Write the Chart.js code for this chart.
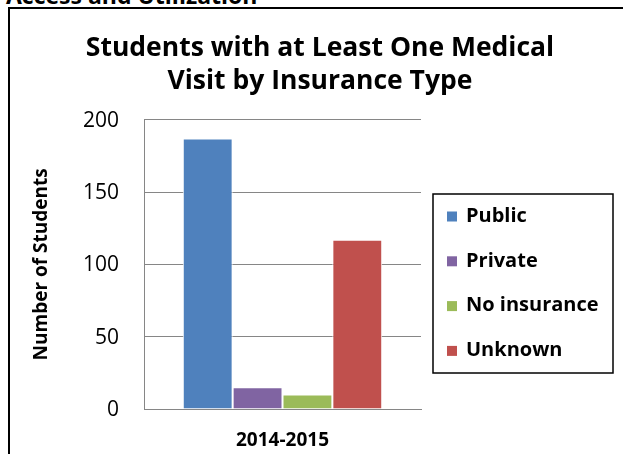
<!DOCTYPE html>
<html>
<head>
<meta charset="utf-8">
<script src="https://cdn.jsdelivr.net/npm/chart.js@4.4.1/dist/chart.umd.min.js"></script>
<style>
  html, body { margin: 0; padding: 0; background: #fff; overflow: hidden; }
  #wrap { position: relative; width: 623px; height: 454px; overflow: hidden; background: #fff; }
  #sect { position: absolute; left: 6px; top: -21px; font: bold 23px "Open Sans", sans-serif; color: #000; white-space: nowrap; }
  #frame { position: absolute; left: 8px; top: 7px; width: 640px; height: 480px; border-left: 2px solid #000; border-top: 2px solid #000; }
  #c { position: absolute; left: 0; top: 0; }
</style>
</head>
<body>
<div id="wrap">
  <div id="sect">Access and Utilization</div>
  <div id="frame"></div>
  <canvas id="c" width="623" height="454"></canvas>
</div>
<script>
// ---- data ----
const categories = ["2014-2015"];
const seriesNames = ["Public", "Private", "No insurance", "Unknown"];
const publicValues = [187];
const privateValues = [15];
const noInsuranceValues = [10];
const unknownValues = [117];
const seriesColors = ["#4F81BD", "#8064A2", "#9BBB59", "#C0504D"];
const yTicks = [0, 50, 100, 150, 200];
const chartTitle = ["Students with at Least One Medical", "Visit by Insurance Type"];
const yAxisTitle = "Number of Students";

const seriesValues = [publicValues, privateValues, noInsuranceValues, unknownValues];
const FONT = '"Open Sans", sans-serif';

const legendPlugin = {
  id: 'boxLegend',
  afterDraw(chart) {
    const ctx = chart.ctx;
    const box = { x: 433, y: 194, w: 180, h: 179 };
    ctx.save();
    ctx.strokeStyle = '#000';
    ctx.lineWidth = 1.5;
    ctx.strokeRect(box.x, box.y, box.w, box.h);
    ctx.font = 'bold 20px ' + FONT;
    ctx.textBaseline = 'middle';
    ctx.textAlign = 'left';
    const firstY = 216;
    const step = 44.8;
    chart.data.datasets.forEach((ds, i) => {
      const cy = firstY + i * step;
      ctx.fillStyle = ds.backgroundColor;
      ctx.fillRect(447, cy - 4.5, 10, 10);
      ctx.fillStyle = '#000';
      ctx.fillText(ds.label, 466, cy);
    });
    ctx.restore();
  }
};

new Chart(document.getElementById('c'), {
  type: 'bar',
  data: {
    labels: categories,
    datasets: seriesNames.map((name, i) => ({
      label: name,
      data: seriesValues[i],
      backgroundColor: seriesColors[i],
      borderColor: '#ffffff',
      borderWidth: 1,
      barPercentage: 1,
      categoryPercentage: 0.72
    }))
  },
  options: {
    responsive: false,
    animation: false,
    layout: { padding: { left: 17, right: 0, top: 0, bottom: 0 } },
    plugins: {
      legend: { display: false },
      tooltip: { enabled: false },
      title: {
        display: true,
        text: chartTitle,
        color: '#000',
        font: { family: FONT, size: 26.5, weight: 'bold', lineHeight: 1.24 },
        padding: { top: 32, bottom: 22 }
      }
    },
    scales: {
      x: {
        grid: { display: false, drawTicks: false },
        border: { display: true, color: '#868686', width: 1 },
        ticks: { color: '#000', font: { family: FONT, size: 19, weight: 'bold' }, padding: 20 },
        afterFit: s => { s.height = 45; }
      },
      y: {
        min: 0, max: 200,
        afterBuildTicks: s => { s.ticks = yTicks.map(v => ({ value: v })); },
        grid: { color: '#868686', lineWidth: 1, drawTicks: false },
        border: { display: true, color: '#868686', width: 1 },
        ticks: { color: '#000', font: { family: FONT, size: 21 }, padding: 25, labelOffset: 1 },
        title: {
          display: true, text: yAxisTitle, color: '#000',
          font: { family: FONT, size: 19, weight: 'bold', lineHeight: 1.2 },
          padding: { top: 13, bottom: 0 }
        },
        afterFit: s => { s.width = 127; }
      },
      y2: {
        position: 'right',
        display: true,
        grid: { display: false, drawTicks: false },
        border: { display: false },
        ticks: { display: false },
        afterFit: s => { s.width = 202; }
      }
    }
  },
  plugins: [legendPlugin]
});
</script>
</body>
</html>
